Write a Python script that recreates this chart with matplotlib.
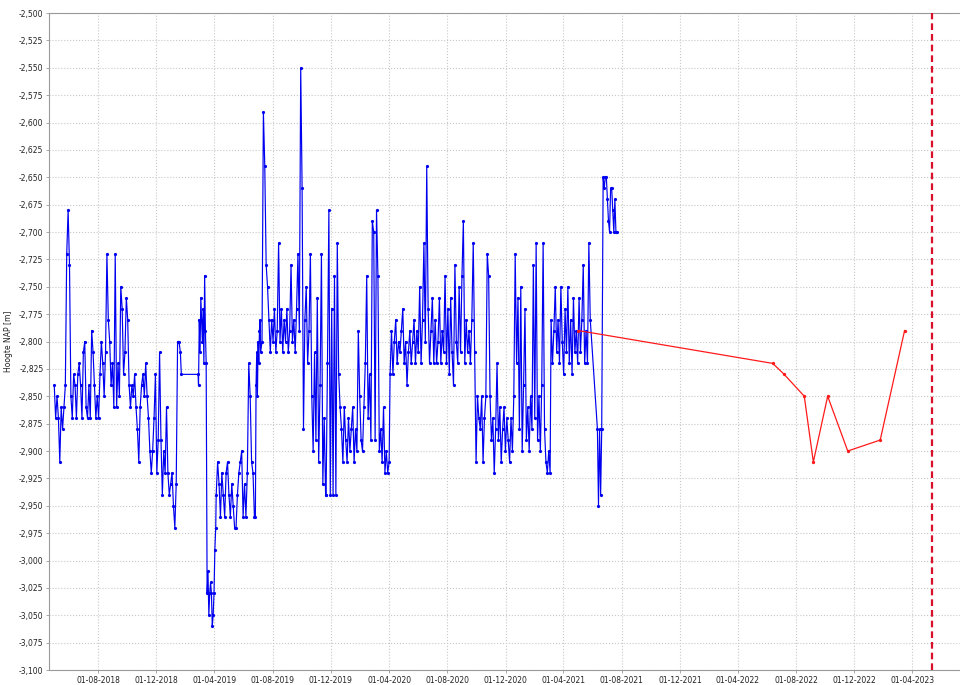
import pandas as pd
import matplotlib
matplotlib.use("Agg")
import matplotlib.pyplot as plt
import matplotlib.dates as mdates
from matplotlib.ticker import FuncFormatter, MultipleLocator

# meetreeks peilbuis (blauw), waarden in cm onder NAP: 284 -> -2,84 m
blue_a = [284, 287, 285, 287, 291, 286, 288, 286, 284, 272, 268, 273, 285, 287, 283, 284,
          287, 283, 282, 284, 287, 281, 280, 286, 287, 284, 287, 279, 281, 284, 287, 285,
          287, 283, 280, 282, 285, 281, 272, 278, 280, 284, 282, 286, 272, 286, 282, 285,
          275, 277, 283, 281, 276, 278, 284, 286, 284, 285, 283, 286, 288, 291, 286, 284,
          283, 285, 282, 285, 287, 290, 292, 290, 287, 283, 292, 289, 281, 289, 294, 290,
          292, 286, 292, 294, 293, 292, 295, 297, 293, 280, 280, 281]
blue_gap = [283, 283]
blue_b = [284, 278, 281, 276, 278, 280, 277, 282, 274, 279, 282]
blue_c = [303, 301, 305, 303, 302, 303, 306, 305, 303, 299, 297]
blue_d = [294, 291, 293, 296, 292, 294, 296, 292, 291, 294, 296, 293, 295, 297, 297, 294,
          292, 291, 290, 296, 293, 296, 292, 282, 285, 291, 292, 296]
blue_e = [296, 284, 281, 285, 280, 282, 279, 278]
blue_f = [281, 280, 259, 264, 273, 275, 278, 281, 278, 280, 277, 281, 279, 271, 280, 277,
          281, 278, 280, 277, 281, 279, 273, 280, 278, 281, 277, 272, 279, 255, 266, 288,
          278, 275, 282, 279, 272, 285, 290, 281, 289, 276, 291, 284, 272, 293, 287, 294]
blue_g = [294, 282, 268, 294, 277, 294, 274, 294, 271, 283, 286, 288, 291, 286, 289, 291,
          287, 290, 288, 286, 291, 288, 290, 279, 285, 289, 290, 286, 282, 274, 287, 283,
          289, 269, 270, 289, 268, 274, 290, 288, 291, 286, 292, 290, 292, 291]
blue_h = [283, 279, 283, 280, 278, 282, 280, 281, 279, 277, 282, 280, 284, 281, 279, 282,
          280, 278, 282, 279, 281, 275, 282, 278, 271, 280, 264, 277, 282, 279, 276, 282,
          278, 282, 280, 276, 282, 279, 281, 274, 282, 277, 283, 276, 281, 284, 273, 280,
          282, 275, 281, 274, 269, 282, 278, 281, 279, 282, 278, 271, 281]
blue_i = [291, 285, 287, 288, 285, 291, 287, 285, 272, 274, 285, 289, 287, 292, 288, 282,
          289, 286, 291, 288, 286, 290, 287, 289, 291, 287, 290, 285, 272, 282, 276, 288,
          275, 290, 284, 277, 289, 286, 290, 285, 288, 273, 287, 271, 289, 285, 290, 284,
          271, 288, 291, 292, 290, 292]
blue_j = [278, 282, 279, 275, 281, 278, 282, 275, 280, 283, 277, 281, 275, 282, 278, 283,
          276, 281, 279, 282, 276, 281, 278, 273, 282, 279, 282, 271, 278]
blue_k = [288, 295, 288, 294, 288]
blue_l = [265, 266, 265, 265, 267, 269, 270, 266, 266, 268, 270, 267, 270, 270]

blue_spans = [
    ("2018-05-01", "2019-01-20", blue_a),
    ("2019-01-22", "2019-02-26", blue_gap),
    ("2019-02-27", "2019-03-15", blue_b),
    ("2019-03-17", "2019-04-04", blue_c),
    ("2019-04-05", "2019-06-24", blue_d),
    ("2019-06-26", "2019-07-06", blue_e),
    ("2019-07-07", "2019-11-20", blue_f),
    ("2019-11-21", "2020-04-01", blue_g),
    ("2020-04-03", "2020-09-27", blue_h),
    ("2020-09-30", "2021-03-04", blue_i),
    ("2021-03-06", "2021-05-27", blue_j),
    ("2021-06-11", "2021-06-20", blue_k),
    ("2021-06-23", "2021-07-22", blue_l),
]

# handmetingen (rood)
red_dates = ["2021-05-02", "2022-06-13", "2022-07-07", "2022-08-18", "2022-09-06",
             "2022-10-06", "2022-11-17", "2023-01-24", "2023-03-16"]
red_vals = [-2.79, -2.82, -2.83, -2.85, -2.91, -2.85, -2.90, -2.89, -2.79]

marker_date = "2023-05-12"

# reeks opbouwen
bx, by = [], []
for start, end, vals in blue_spans:
    d = pd.date_range(start, end, periods=len(vals))
    bx.extend(d)
    by.extend([-v / 100 for v in vals])

fig = plt.figure(figsize=(9.6, 6.85), dpi=100)
ax = fig.add_axes([49 / 960, 15 / 685, 911 / 960, 657 / 685])

ax.plot(bx, by, color="#0000f0", lw=0.85, marker="o", ms=2.3, mew=0, zorder=3)
ax.plot(pd.to_datetime(red_dates), red_vals, color="#ff1a1a", lw=0.9,
        marker="o", ms=2.4, mew=0, zorder=4)
ax.axvline(pd.Timestamp(marker_date), color="#d8102a", lw=1.6, ls=(0, (3, 1.8)), zorder=5)

ax.set_xlim(pd.Timestamp("2018-04-20"), pd.Timestamp("2023-07-10"))
ax.set_ylim(-3.1, -2.5)

ax.yaxis.set_major_locator(MultipleLocator(0.025))
ax.yaxis.set_major_formatter(FuncFormatter(lambda v, p: f"{v:.3f}".replace(".", ",")))
ax.xaxis.set_major_locator(mdates.MonthLocator(bymonth=[4, 8, 12], bymonthday=1))
ax.xaxis.set_major_formatter(mdates.DateFormatter("%d-%m-%Y"))

ax.grid(True, color="#c8c8c8", ls=":", lw=0.8)
ax.set_axisbelow(True)
for s in ["left", "bottom", "top"]:
    ax.spines[s].set_color("#9a9a9a")
ax.spines["right"].set_visible(False)
ax.tick_params(axis="both", labelsize=5.5, colors="#9a9a9a", labelcolor="#222222",
               length=2.5, width=0.6, pad=1.5)

ax.set_ylabel("Hoogte NAP [m]", fontsize=5.5, color="#222222", labelpad=4)

fig.savefig("out.png", dpi=100)
